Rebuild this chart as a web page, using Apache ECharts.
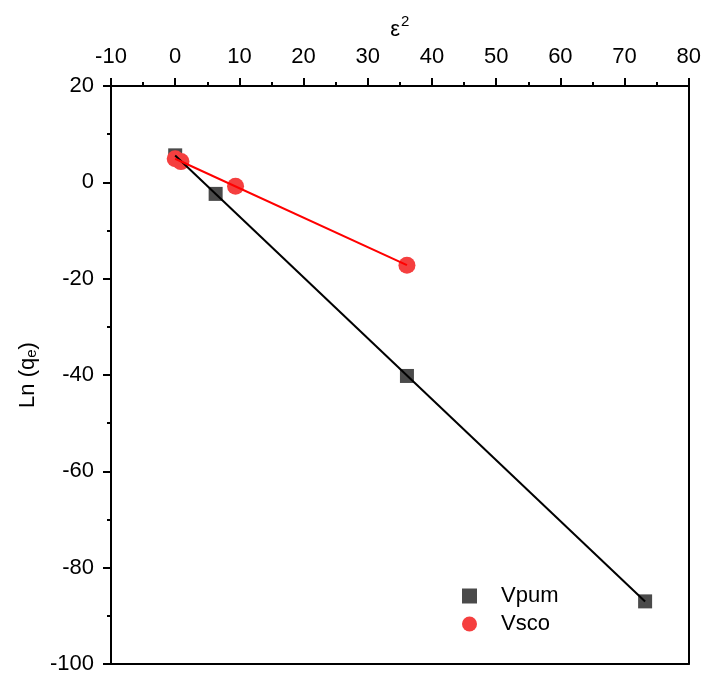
<!DOCTYPE html>
<html>
<head>
<meta charset="utf-8">
<script src="https://cdn.jsdelivr.net/npm/echarts@6/dist/echarts.min.js"></script>
<style>html,body{margin:0;padding:0;background:#fff;}#c{width:704px;height:678px;}</style>
</head>
<body>
<div id="c"></div>
<script>
const xTicks = [-10, 0, 10, 20, 30, 40, 50, 60, 70, 80];
const yTicks = [20, 0, -20, -40, -60, -80, -100];
const vpumX = [0, 6.3, 36.1, 73.2];
const vpumY = [5.6, -2.4, -40.2, -87.0];
const vscoX = [0, 0.9, 9.4, 36.1];
const vscoY = [4.9, 4.3, -0.8, -17.2];

function fit(xs, ys) {
  const n = xs.length;
  let sx = 0, sy = 0, sxx = 0, sxy = 0;
  for (let i = 0; i < n; i++) { sx += xs[i]; sy += ys[i]; sxx += xs[i]*xs[i]; sxy += xs[i]*ys[i]; }
  const b = (n*sxy - sx*sy) / (n*sxx - sx*sx);
  const a = (sy - b*sx) / n;
  const x0 = Math.min(...xs), x1 = Math.max(...xs);
  return [[x0, a + b*x0], [x1, a + b*x1]];
}
const pts = (xs, ys) => xs.map((x, i) => [x, ys[i]]);

const font = 'Liberation Sans, Arial, sans-serif';
const chart = echarts.init(document.getElementById('c'), null, {renderer: 'canvas'});
chart.setOption({
  backgroundColor: '#fff',
  animation: false,
  textStyle: {fontFamily: font},
  grid: {left: 111, right: 13, top: 86, bottom: 14, containLabel: false},
  legend: {
    orient: 'vertical', left: 457, top: 580, itemWidth: 15, itemHeight: 15, itemGap: 6,
    data: ['Vpum', 'Vsco'],
    textStyle: {fontSize: 22, color: '#000', fontFamily: font, padding: [0, 0, 0, 19]}
  },
  xAxis: [{
    type: 'value', position: 'top', min: xTicks[0], max: xTicks[xTicks.length-1], interval: 10,
    name: '{a|ε}{s|2}', nameLocation: 'middle', nameGap: 36,
    nameTextStyle: {rich: {a: {fontSize: 22, color: '#000', fontFamily: font, verticalAlign: 'bottom'}, s: {fontSize: 15, color: '#000', fontFamily: font, verticalAlign: 'top', padding: [0,0,12,1]}}},
    axisLine: {show: true, onZero: false, lineStyle: {color: '#000', width: 2}},
    axisTick: {show: true, inside: false, length: 8, lineStyle: {color: '#000', width: 2}},
    minorTick: {show: true, splitNumber: 2, length: 4, lineStyle: {color: '#000', width: 2}},
    axisLabel: {fontSize: 22, color: '#000', margin: 18, fontFamily: font},
    splitLine: {show: false}
  }, {
    type: 'value', position: 'bottom', min: xTicks[0], max: xTicks[xTicks.length-1], interval: 10,
    axisLine: {show: true, onZero: false, lineStyle: {color: '#000', width: 2}},
    axisTick: {show: false}, axisLabel: {show: false}, splitLine: {show: false}
  }],
  yAxis: [{
    type: 'value', position: 'left', min: yTicks[yTicks.length-1], max: yTicks[0], interval: 20,
    name: '{a|Ln (q}{s|e}{a|)}', nameLocation: 'middle', nameGap: 70, nameRotate: 90,
    nameTextStyle: {rich: {a: {fontSize: 22, color: '#000', fontFamily: font}, s: {fontSize: 15, color: '#000', fontFamily: font, padding: [8,0,0,0]}}},
    axisLine: {show: true, onZero: false, lineStyle: {color: '#000', width: 2}},
    axisTick: {show: true, inside: false, length: 8, lineStyle: {color: '#000', width: 2}},
    minorTick: {show: true, splitNumber: 2, length: 4, lineStyle: {color: '#000', width: 2}},
    axisLabel: {fontSize: 22, color: '#000', margin: 17, fontFamily: font},
    splitLine: {show: false}
  }, {
    type: 'value', position: 'right', min: yTicks[yTicks.length-1], max: yTicks[0], interval: 20,
    axisLine: {show: true, onZero: false, lineStyle: {color: '#000', width: 2}},
    axisTick: {show: false}, axisLabel: {show: false}, splitLine: {show: false}
  }],
  series: [
    {name: 'Vpum', type: 'scatter', symbol: 'rect', symbolSize: 14, data: pts(vpumX, vpumY),
     itemStyle: {color: '#4a4a4a', opacity: 1}, z: 2},
    {name: 'Vsco', type: 'scatter', symbol: 'circle', symbolSize: 17, data: pts(vscoX, vscoY),
     itemStyle: {color: '#f53f3f', opacity: 1}, z: 2},
    {name: 'fitVpum', type: 'line', data: fit(vpumX, vpumY), symbol: 'none',
     lineStyle: {color: '#000', width: 2}, z: 3},
    {name: 'fitVsco', type: 'line', data: fit(vscoX, vscoY), symbol: 'none',
     lineStyle: {color: '#ff0000', width: 2}, z: 3}
  ]
});
</script>
</body>
</html>
